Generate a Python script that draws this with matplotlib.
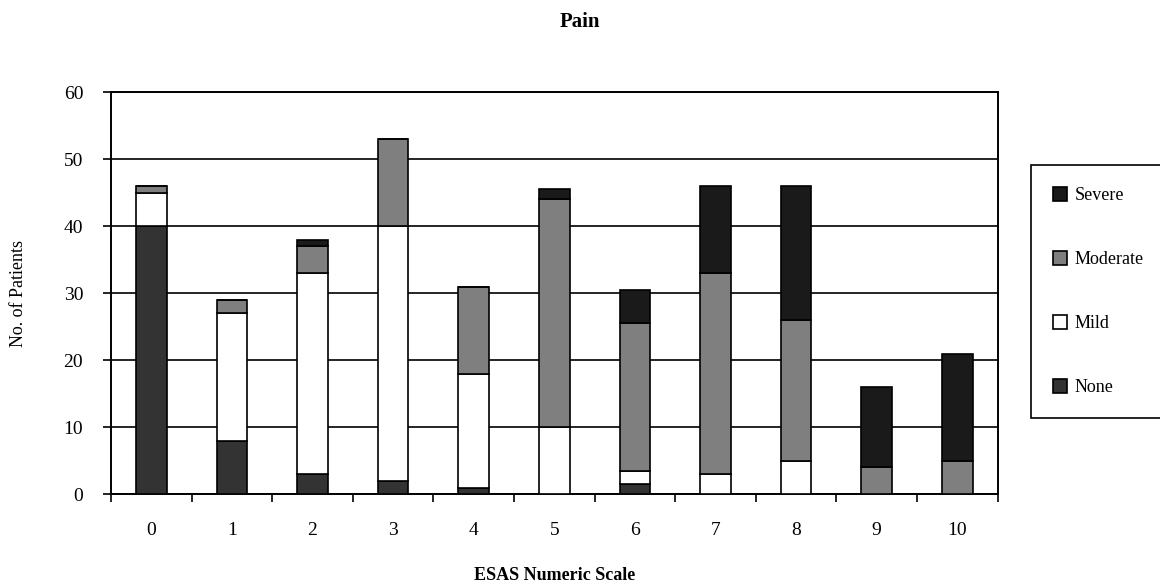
import numpy as np
import matplotlib.pyplot as plt

# ESAS pain score (0-10) against patient-rated severity
scores = ['0', '1', '2', '3', '4', '5', '6', '7', '8', '9', '10']
none_vals = [40, 8, 3, 2, 1, 0, 1.5, 0, 0, 0, 0]
mild_vals = [5, 19, 30, 38, 17, 10, 2, 3, 5, 0, 0]
moderate_vals = [1, 2, 4, 13, 13, 34, 22, 30, 21, 4, 5]
severe_vals = [0, 0, 1, 0, 0, 1.5, 5, 13, 20, 12, 16]

plt.rcParams['font.family'] = ['Liberation Serif', 'DejaVu Serif']

fig = plt.figure(figsize=(11.6, 5.87), dpi=100)
ax = fig.add_axes([0.0957, 0.158, 0.7643, 0.685])

x = np.arange(len(scores))
w = 0.38
bottom = np.zeros(len(scores))
series = [
    ('None', none_vals, '#333333'),
    ('Mild', mild_vals, 'white'),
    ('Moderate', moderate_vals, '#7f7f7f'),
    ('Severe', severe_vals, '#1a1a1a'),
]
handles = {}
for name, vals, col in series:
    vals = np.array(vals, dtype=float)
    b = ax.bar(x, vals, w, bottom=bottom, color=col, edgecolor='black',
               linewidth=1.2, label=name, zorder=3)
    handles[name] = b
    bottom += vals

ax.set_xlim(-0.5, len(scores) - 0.5)
ax.set_ylim(0, 60)
ax.set_yticks(np.arange(0, 61, 10))
ax.yaxis.grid(True, color='black', linewidth=1.2, zorder=0)
ax.set_xticks(x)
ax.set_xticklabels(scores, fontsize=14)
ax.set_xticks(np.arange(-0.5, len(scores), 1), minor=True)
ax.tick_params(axis='x', which='major', length=0, pad=20)
ax.tick_params(axis='x', which='minor', length=6, width=1.2, direction='out')
ax.tick_params(axis='y', length=6, width=1.2, labelsize=14, pad=14)
for s in ax.spines.values():
    s.set_linewidth(1.4)
    s.set_color('black')

ax.set_ylabel('No. of Patients', fontsize=13, labelpad=26)
ax.set_xlabel('ESAS Numeric Scale', fontsize=13, fontweight='bold', labelpad=20)
fig.text(0.5, 0.963, 'Pain', ha='center', va='center', fontsize=15, fontweight='bold')

order = ['Severe', 'Moderate', 'Mild', 'None']
leg = fig.legend([handles[k] for k in order], order,
                 loc='upper left', bbox_to_anchor=(1022 / 1160, 1 - 156 / 587),
                 fontsize=13, labelspacing=2.6, handlelength=0.8, handleheight=0.8,
                 handletextpad=0.4, borderpad=1.2, fancybox=False,
                 edgecolor='black', framealpha=1)
leg.get_frame().set_linewidth(1.2)

plt.savefig('out.png', dpi=100)
